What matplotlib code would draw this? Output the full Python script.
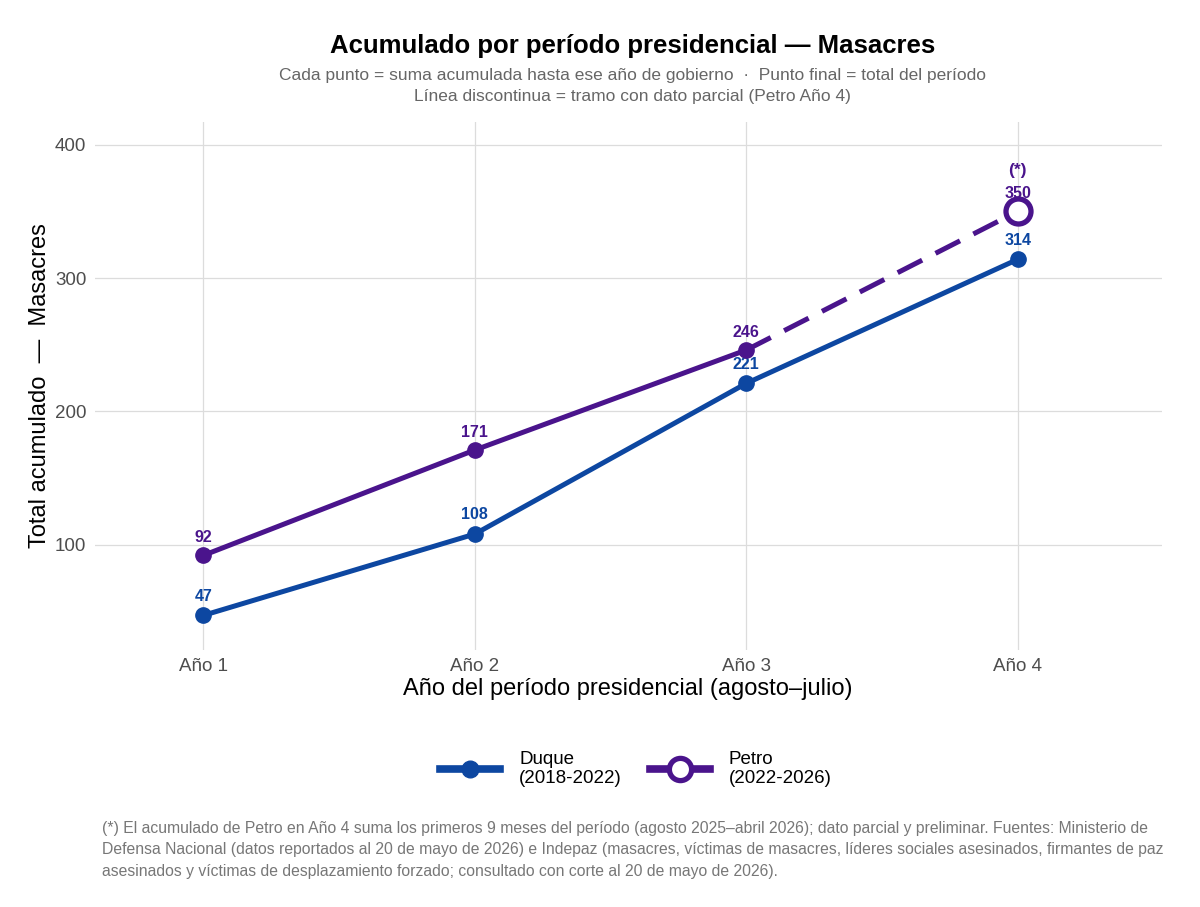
import matplotlib
matplotlib.use("Agg")
import matplotlib.pyplot as plt
from matplotlib.lines import Line2D

plt.rcParams['font.family'] = ['Liberation Sans', 'DejaVu Sans']

years = ["Año 1", "Año 2", "Año 3", "Año 4"]
duque = [47, 108, 221, 314]
petro = [92, 171, 246, 350]

c_duque = "#0d47a1"
c_petro = "#4a148c"

fig = plt.figure(figsize=(12, 9.07), dpi=100)
ax = fig.add_axes([0.079, 0.2833, 0.889, 0.5822])

x = [1, 2, 3, 4]

# Duque
ax.plot(x, duque, color=c_duque, lw=3.6, zorder=3)
ax.plot(x, duque, "o", color=c_duque, ms=11, zorder=4)

# Petro: solid up to year 3, dashed to the partial year 4
ax.plot(x[:3], petro[:3], color=c_petro, lw=3.6, zorder=3)
ax.plot(x[2:], petro[2:], color=c_petro, lw=3.6, ls=(0, (5.5, 3)), zorder=3)
ax.plot(x[:3], petro[:3], "o", color=c_petro, ms=11, zorder=4)
ax.plot(x[3], petro[3], "o", mfc="white", mec=c_petro, mew=3.8, ms=18, zorder=5)

for xi, v in zip(x, duque):
    ax.annotate(str(v), (xi, v), xytext=(0, 8.5), textcoords="offset points",
                ha="center", va="bottom", color=c_duque, fontsize=11.5, fontweight="bold")
for xi, v in zip(x, petro):
    ax.annotate(str(v), (xi, v), xytext=(0, 7.5), textcoords="offset points",
                ha="center", va="bottom", color=c_petro, fontsize=11.5, fontweight="bold")
ax.annotate("(*)", (4, petro[3]), xytext=(0, 24), textcoords="offset points",
            ha="center", va="bottom", color=c_petro, fontsize=12.5, fontweight="bold")

ax.set_xlim(0.6, 4.53)
ax.set_ylim(21, 417)
ax.set_xticks(x)
ax.set_xticklabels(years)
ax.set_yticks([100, 200, 300, 400])
ax.tick_params(axis="both", length=0, labelsize=13.5, labelcolor="#4d4d4d", pad=6)
ax.grid(True, color="#dcdcdc", lw=0.9)
ax.set_axisbelow(True)
for s in ax.spines.values():
    s.set_visible(False)

ax.set_xlabel("Año del período presidencial (agosto–julio)", fontsize=17, labelpad=2)
ax.set_ylabel("Total acumulado  —  Masacres", fontsize=17, labelpad=3)

fig.text(0.527, 0.949, "Acumulado por período presidencial — Masacres",
         ha="center", va="center", fontsize=18.5, fontweight="bold")
fig.text(0.527, 0.917, "Cada punto = suma acumulada hasta ese año de gobierno  ·  Punto final = total del período",
         ha="center", va="center", fontsize=12.5, color="#666666")
fig.text(0.527, 0.894, "Línea discontinua = tramo con dato parcial (Petro Año 4)",
         ha="center", va="center", fontsize=12.5, color="#666666")

handles = [
    Line2D([0], [0], color=c_duque, lw=5.5, marker="o", ms=12, mfc=c_duque, mec=c_duque),
    Line2D([0], [0], color=c_petro, lw=5.5, marker="o", ms=16, mfc="white", mec=c_petro, mew=3.8),
]
fig.legend(handles, ["Duque\n(2018-2022)", "Petro\n(2022-2026)"], loc="center",
           bbox_to_anchor=(0.53, 0.152), ncol=2, frameon=False, fontsize=13.5,
           handlelength=3.2, columnspacing=1.5, handletextpad=1.0, labelspacing=0.2)

caption = ("(*) El acumulado de Petro en Año 4 suma los primeros 9 meses del período (agosto 2025–abril 2026); dato parcial y preliminar. Fuentes: Ministerio de\n"
           "Defensa Nacional (datos reportados al 20 de mayo de 2026) e Indepaz (masacres, víctimas de masacres, líderes sociales asesinados, firmantes de paz\n"
           "asesinados y víctimas de desplazamiento forzado; consultado con corte al 20 de mayo de 2026).")
fig.text(0.085, 0.063, caption, ha="left", va="center", fontsize=11.35, color="#777777", linespacing=1.55)

fig.savefig("out.png", dpi=100)
